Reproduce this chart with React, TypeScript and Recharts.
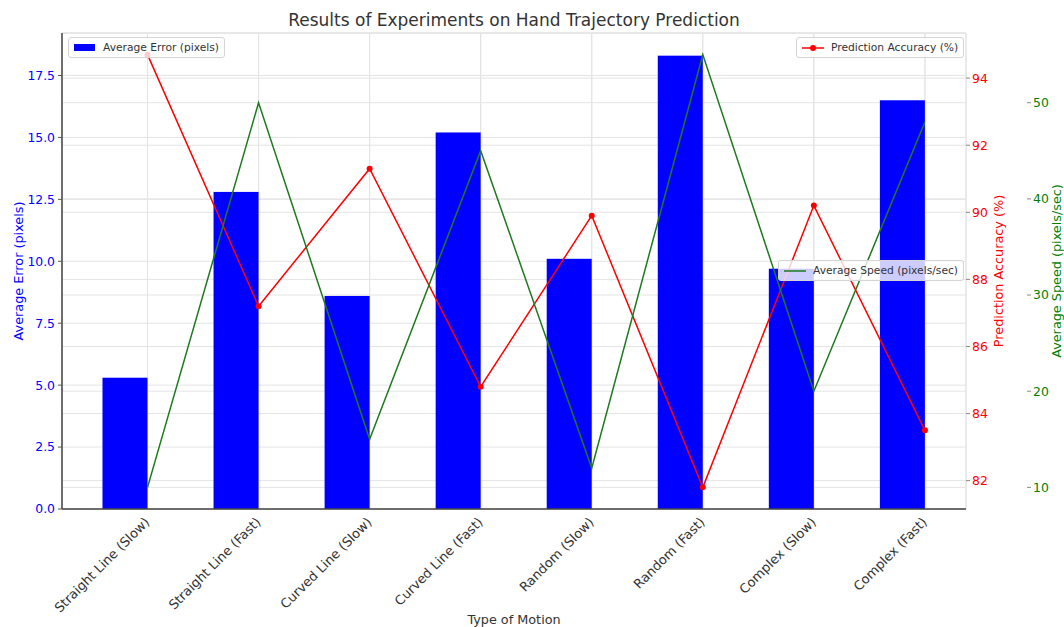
import { ComposedChart, Bar, Line, XAxis, YAxis, CartesianGrid, Legend, Label } from "recharts";

const FONT = "'DejaVu Sans', Verdana, sans-serif";

const categories = [
  "Straight Line (Slow)",
  "Straight Line (Fast)",
  "Curved Line (Slow)",
  "Curved Line (Fast)",
  "Random (Slow)",
  "Random (Fast)",
  "Complex (Slow)",
  "Complex (Fast)",
];
const avgError = [5.3, 12.8, 8.6, 15.2, 10.1, 18.3, 9.7, 16.5];
const accuracy = [94.7, 87.2, 91.3, 84.8, 89.9, 81.8, 90.2, 83.5];
const speed = [10, 50, 15, 45, 12, 55, 20, 48];

const errorTicks = [0, 2.5, 5, 7.5, 10, 12.5, 15, 17.5];
const accuracyTicks = [82, 84, 86, 88, 90, 92, 94];
const speedTicks = [10, 20, 30, 40, 50];

const data = categories.map((name, i) => ({
  idx: i,
  name,
  error: avgError[i],
  accuracy: accuracy[i],
  speed: speed[i],
}));

// matplotlib-like autoscale: 5% margin on each side
const padded = (vals: number[]) => {
  const lo = Math.min(...vals);
  const hi = Math.max(...vals);
  const m = (hi - lo) * 0.05;
  return [lo - m, hi + m];
};
const n = categories.length;
const xSpan = n - 1 + 0.4;
const xDomain = [-0.4 - xSpan * 0.05, n - 1 + xSpan * 0.05];
const errDomain = [0, Math.max(...avgError) * 1.05];
const accDomain = padded(accuracy);
const spdDomain = padded(speed);

const GRID = "#e4e4e4";
const TICK_FS = 12.4;
const LABEL_FS = 12.8;

// bars sit to the left of the tick (align="edge", width=-0.4)
const EdgeBar = (p: any) => (
  <rect x={p.x - p.width / 2} y={p.y} width={p.width} height={p.height} fill={p.fill} />
);

const XTick = ({ x, y, payload }: any) => (
  <g transform={`translate(${x - 4},${y})`}>
    <text
      x={0}
      y={0}
      dy="0.75em"
      textAnchor="end"
      transform="rotate(-45)"
      fill="#333"
      fontSize={13}
      fontFamily={FONT}
    >
      {categories[payload.value]}
    </text>
  </g>
);

const sideTitle = (text: string, color: string, dx: number) => (props: any) => {
  const vb = props.viewBox;
  const cx = vb.x + dx;
  const cy = vb.y + vb.height / 2;
  return (
    <text
      x={cx}
      y={cy}
      transform={`rotate(-90 ${cx} ${cy})`}
      textAnchor="middle"
      dominantBaseline="central"
      fill={color}
      fontSize={LABEL_FS}
      fontFamily={FONT}
    >
      {text}
    </text>
  );
};

const bottomTitle = (props: any) => {
  const vb = props.viewBox;
  return (
    <text x={vb.x + vb.width / 2} y={vb.y + 115} textAnchor="middle" fill="#333" fontSize={LABEL_FS} fontFamily={FONT}>
      Type of Motion
    </text>
  );
};

const boxStyle: any = {
  position: "absolute",
  display: "flex",
  alignItems: "center",
  height: 21,
  boxSizing: "border-box",
  padding: "0 5px",
  background: "rgba(255,255,255,0.8)",
  border: "1px solid #d4d4d4",
  borderRadius: 3,
  fontSize: 10.7,
  color: "#333",
  fontFamily: FONT,
  whiteSpace: "nowrap",
};

const LegendBoxes = ({ payload }: any) => {
  const find = (k: string) => (payload || []).find((p: any) => p.dataKey === k) || { value: k, color: "#000" };
  const err = find("error");
  const acc = find("accuracy");
  const spd = find("speed");
  return (
    <div style={{ position: "relative", width: 1064, height: 627 }}>
      <div style={{ ...boxStyle, left: 68, top: 37 }}>
        <span style={{ width: 21, height: 7, background: err.color, marginRight: 8 }} />
        {err.value}
      </div>
      <div style={{ ...boxStyle, left: 796, top: 37 }}>
        <svg width={22} height={8} style={{ marginRight: 7 }}>
          <line x1={0} y1={4} x2={22} y2={4} stroke={acc.color} strokeWidth={1.5} />
          <circle cx={11} cy={4} r={3} fill={acc.color} />
        </svg>
        {acc.value}
      </div>
      <div style={{ ...boxStyle, left: 778, top: 260 }}>
        <svg width={22} height={8} style={{ marginRight: 7 }}>
          <line x1={0} y1={4} x2={22} y2={4} stroke={spd.color} strokeWidth={1.5} />
        </svg>
        {spd.value}
      </div>
    </div>
  );
};

export default function App() {
  return (
    <div style={{ position: "absolute", left: 0, top: 0, width: 1064, height: 627, background: "#fff" }}>
      <div
        style={{
          position: "absolute",
          left: 62,
          width: 904,
          top: 11,
          textAlign: "center",
          fontSize: 17,
          lineHeight: "19px",
          color: "#333",
          fontFamily: FONT,
        }}
      >
        Results of Experiments on Hand Trajectory Prediction
      </div>
      <ComposedChart width={1064} height={627} data={data} margin={{ top: 33, right: 0, bottom: 0, left: 0 }}>
        <CartesianGrid xAxisId="x" yAxisId="err" stroke={GRID} />
        <XAxis
          xAxisId="x"
          dataKey="idx"
          type="number"
          domain={xDomain}
          allowDataOverflow
          ticks={categories.map((_, i) => i)}
          interval={0}
          height={118}
          tick={<XTick />}
          tickLine={false}
          tickSize={4}
          tickMargin={3}
          axisLine={{ stroke: "#444", strokeWidth: 1.5 }}
        >
          <Label content={bottomTitle} />
        </XAxis>
        <YAxis
          yAxisId="err"
          orientation="left"
          width={62}
          domain={errDomain}
          allowDataOverflow
          ticks={errorTicks}
          tickFormatter={(v: number) => v.toFixed(1)}
          tick={{ fill: "blue", fontSize: TICK_FS, fontFamily: FONT }}
          tickSize={4}
          tickMargin={3}
          tickLine={{ stroke: "#555" }}
          axisLine={{ stroke: "#444", strokeWidth: 1.5 }}
        >
          <Label content={sideTitle("Average Error (pixels)", "blue", 18)} />
        </YAxis>
        <YAxis
          yAxisId="acc"
          orientation="right"
          width={61}
          domain={accDomain}
          allowDataOverflow
          ticks={accuracyTicks}
          tick={{ fill: "red", fontSize: TICK_FS, fontFamily: FONT, textAnchor: "start" }}
          tickSize={4}
          tickMargin={2}
          tickLine={{ stroke: "#888" }}
          axisLine={false}
        >
          <Label content={sideTitle("Prediction Accuracy (%)", "red", 32)} />
        </YAxis>
        <YAxis
          yAxisId="spd"
          orientation="right"
          width={37}
          domain={spdDomain}
          allowDataOverflow
          ticks={speedTicks}
          tick={{ fill: "green", fontSize: TICK_FS, fontFamily: FONT, textAnchor: "start" }}
          tickSize={4}
          tickMargin={2}
          tickLine={{ stroke: "#888" }}
          axisLine={false}
        >
          <Label content={sideTitle("Average Speed (pixels/sec)", "green", 29)} />
        </YAxis>
        <Bar
          xAxisId="x"
          yAxisId="err"
          dataKey="error"
          name="Average Error (pixels)"
          fill="#0000ff"
          barSize={45}
          shape={EdgeBar}
          isAnimationActive={false}
        />
        <CartesianGrid xAxisId="x" yAxisId="acc" vertical stroke={GRID} />
        <CartesianGrid xAxisId="x" yAxisId="spd" vertical={false} stroke={GRID} />
        <Line
          xAxisId="x"
          yAxisId="acc"
          dataKey="accuracy"
          name="Prediction Accuracy (%)"
          stroke="#ff0000"
          strokeWidth={1.5}
          dot={{ r: 3, fill: "#ff0000", stroke: "#ff0000", strokeWidth: 0 }}
          activeDot={false}
          isAnimationActive={false}
        />
        <Line
          xAxisId="x"
          yAxisId="spd"
          dataKey="speed"
          name="Average Speed (pixels/sec)"
          stroke="#1e7a1e"
          strokeWidth={1.5}
          dot={false}
          activeDot={false}
          isAnimationActive={false}
        />
        <Legend
          layout="horizontal"
          verticalAlign="middle"
          align="center"
          wrapperStyle={{ left: 0, top: 0, width: 1064, height: 627, pointerEvents: "none" }}
          content={<LegendBoxes />}
        />
      </ComposedChart>
    </div>
  );
}
